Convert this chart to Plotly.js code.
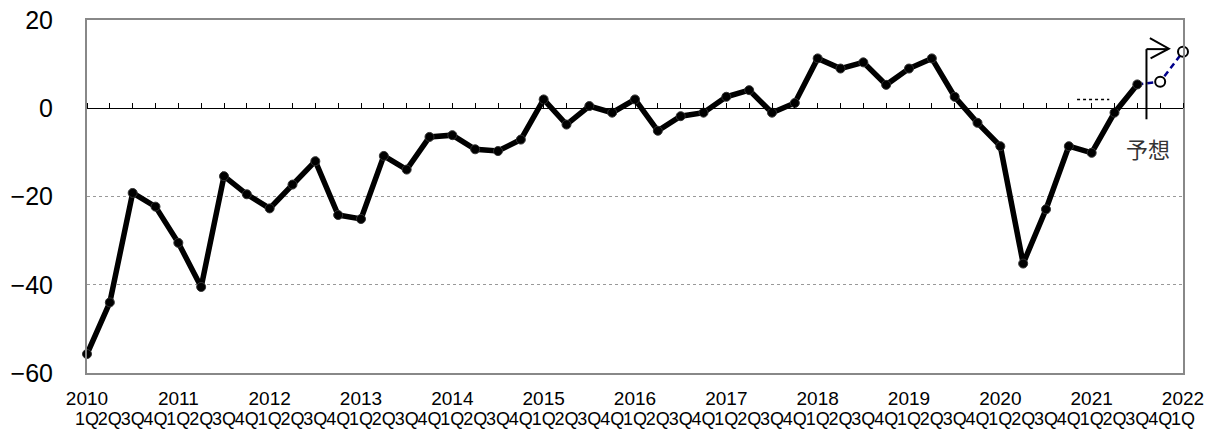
<!DOCTYPE html>
<html><head><meta charset="utf-8">
<script src="https://cdn.plot.ly/plotly-3.0.1.min.js"></script>
<style>html,body{margin:0;padding:0;background:#fff;}</style>
</head><body>
<div id="chart" style="width:1216px;height:430px;"></div>
<script>
// ---- data ----
const years = ["2010","2011","2012","2013","2014","2015","2016","2017","2018","2019","2020","2021","2022"];
const quarterNames = ["1Q","2Q","3Q","4Q"];
// actual values 2010Q1 .. 2021Q3
const actual = [
  -55.7, -44.0, -19.2, -22.3,
  -30.5, -40.5, -15.4, -19.5,
  -22.7, -17.3, -12.0, -24.2,
  -25.1, -10.8, -13.9, -6.5,
  -6.1, -9.3, -9.7, -7.1,
  2.0, -3.7, 0.5, -1.0,
  2.0, -5.1, -1.8, -1.0,
  2.6, 4.1, -1.0, 1.2,
  11.3, 9.0, 10.4, 5.3,
  9.0, 11.3, 2.6, -3.3,
  -8.6, -35.2, -22.9, -8.6,
  -10.1, -1.0, 5.4
];
// forecast values 2021Q4, 2022Q1
const forecast = [6.0, 12.8];
const forecastLabel = "予想";

// ---- build categories ----
const nQ = actual.length + forecast.length;
const xIdx = [], qText = [], yearVals = [], yearText = [];
for (let i = 0; i < nQ; i++) {
  xIdx.push(i);
  const q = i % 4;
  qText.push(quarterNames[q]);
  if (q === 0) { yearVals.push(i); yearText.push(years[i / 4]); }
}
const xActual = xIdx.slice(0, actual.length);
const lastA = actual.length - 1;
const xFc = [lastA].concat(xIdx.slice(actual.length));
const yFc = [actual[lastA]].concat(forecast);

const font = "Liberation Sans, Arial, sans-serif";

const traces = [
  {
    x: xFc, y: yFc, type: "scatter", mode: "lines+markers", cliponaxis: false,
    line: {color: "#00008B", width: 2.5, dash: "6px,4px"},
    marker: {size: [0, 10, 10], color: "#ffffff", opacity: 1, line: {color: "#000000", width: 2}},
    hoverinfo: "skip", showlegend: false
  },
  {
    x: xActual, y: actual, type: "scatter", mode: "lines+markers", cliponaxis: false,
    line: {color: "#000", width: 5.5},
    marker: {size: 9, color: "#000", line: {color: "#333", width: 1}},
    showlegend: false
  },
  { x: [0], y: [null], xaxis: "x2", type: "scatter", mode: "markers", showlegend: false, hoverinfo: "skip" },
  { x: [0], y: [null], xaxis: "x3", type: "scatter", mode: "markers", showlegend: false, hoverinfo: "skip" }
];

const flagX = lastA + 0.4;
const layout = {
  width: 1216, height: 430,
  margin: {l: 87, r: 33, t: 20, b: 57},
  paper_bgcolor: "#fff", plot_bgcolor: "#fff",
  showlegend: false,
  xaxis: {
    range: [0, nQ - 1], tickmode: "array", tickvals: xIdx, ticktext: qText,
    ticks: "", showgrid: false, zeroline: false,
    showline: true, mirror: true, linecolor: "#888", linewidth: 2,
    tickfont: {family: font, size: 18, color: "#000"}, tickangle: 0,
    ticklabelstandoff: 28
  },
  xaxis2: {
    matches: "x", overlaying: "x", anchor: "free", position: 0.75, side: "top",
    tickmode: "array", tickvals: xIdx, ticks: "outside", ticklen: 5, tickwidth: 1, tickcolor: "#000",
    showticklabels: false, showgrid: false, zeroline: false,
    showline: true, linecolor: "#000", linewidth: 1
  },
  xaxis3: {
    matches: "x", overlaying: "x", anchor: "free", position: 0, side: "bottom",
    tickmode: "array", tickvals: yearVals, ticktext: yearText, ticks: "",
    showgrid: false, zeroline: false, showline: false, tickangle: 0,
    tickfont: {family: font, size: 19, color: "#000"},
    ticklabelstandoff: 12
  },
  yaxis: {
    range: [-60, 20], dtick: 20, tick0: 0, ticks: "",
    showgrid: true, gridcolor: "#999", griddash: "dot", gridwidth: 1,
    zeroline: false,
    showline: true, mirror: true, linecolor: "#888", linewidth: 2,
    tickfont: {family: font, size: 25, color: "#000"},
    ticklabelstandoff: 27
  },
  shapes: [
    {type: "line", xref: "x", yref: "y", x0: flagX, x1: flagX, y0: 13.4, y1: -2.5, line: {color: "#000", width: 2}},
    {type: "line", xref: "x", yref: "y", x0: flagX, x1: flagX + 0.95, y0: 13.4, y1: 13.4, line: {color: "#000", width: 2}},
    {type: "path", xref: "x", yref: "y", path: `M ${flagX+0.15},15.9 L ${flagX+0.98},13.5 L ${flagX+0.18},11.3`, line: {color: "#000", width: 2}},
    {type: "line", xref: "x", yref: "y", x0: 43.36, x1: 44.77, y0: 2.0, y1: 2.0, line: {color: "#000", width: 1.5, dash: "dot"}}
  ],
  annotations: [
    {xref: "x", yref: "y", x: flagX + 0.05, y: -9.0, text: forecastLabel, showarrow: false,
     font: {family: "Noto Sans CJK JP, sans-serif", size: 22, color: "#333"}}
  ]
};

Plotly.newPlot("chart", traces, layout, {displayModeBar: false, staticPlot: true});
</script>
</body></html>
